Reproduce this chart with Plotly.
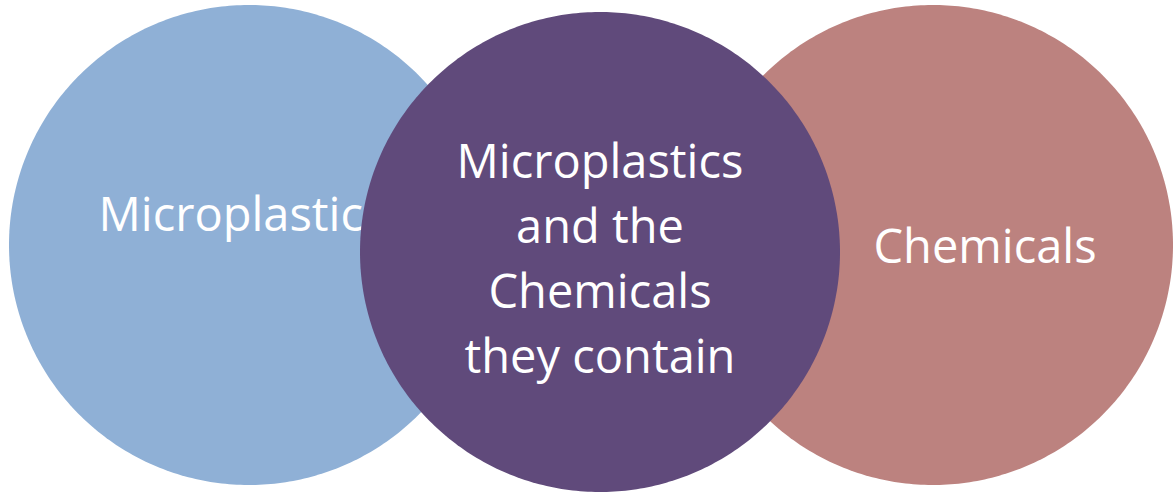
import numpy as np
import plotly.graph_objects as go

# ---- data ----
circle_names = ["Microplastics", "Microplastics and the Chemicals they contain", "Chemicals"]
left_label = "Microplastics"
middle_lines = ["Microplastics", "and the", "Chemicals", "they contain"]
right_label = "Chemicals"

# ---- layout geometry (pixels) ----
W, H = 1173, 494
FS = 47
FONT = "Open Sans"

def circle_xy(cx, cy, r, n=400):
    t = np.linspace(0, 2 * np.pi, n)
    return cx + r * np.cos(t), cy + r * np.sin(t)

def text_y(baseline):
    # middle-center text: baseline sits ~0.24em below the anchor point
    return baseline - 0.24 * FS

fig = go.Figure()

# left circle
x, y = circle_xy(249, 245, 240)
fig.add_trace(go.Scatter(x=x, y=y, fill="toself", fillcolor="#8FB0D6", mode="none",
                         hoverinfo="skip", name=circle_names[0]))
# right circle
x, y = circle_xy(933, 245, 240)
fig.add_trace(go.Scatter(x=x, y=y, fill="toself", fillcolor="#BC827F", mode="none",
                         hoverinfo="skip", name=circle_names[2]))
# left label (partially covered by middle circle)
fig.add_trace(go.Scatter(x=[242], y=[text_y(231)], mode="text", text=[left_label],
                         textposition="middle center",
                         textfont=dict(family=FONT, size=FS, color="white"),
                         hoverinfo="skip"))
# middle circle
x, y = circle_xy(600, 252, 240)
fig.add_trace(go.Scatter(x=x, y=y, fill="toself", fillcolor="#604A7B", mode="none",
                         hoverinfo="skip", name=circle_names[1]))
# middle label lines
base0, step = 178, 64.7
fig.add_trace(go.Scatter(x=[600] * len(middle_lines),
                         y=[text_y(base0 + i * step) for i in range(len(middle_lines))],
                         mode="text", text=middle_lines, textposition="middle center",
                         textfont=dict(family=FONT, size=FS, color="white"),
                         hoverinfo="skip"))
# right label
fig.add_trace(go.Scatter(x=[985], y=[text_y(263)], mode="text", text=[right_label],
                         textposition="middle center",
                         textfont=dict(family=FONT, size=FS, color="white"),
                         hoverinfo="skip"))

fig.update_layout(
    width=W, height=H, margin=dict(l=0, r=0, t=0, b=0),
    paper_bgcolor="white", plot_bgcolor="white", showlegend=False,
    xaxis=dict(range=[0, W], visible=False, fixedrange=True),
    yaxis=dict(range=[H, 0], visible=False, fixedrange=True),
)
fig.write_html("out.html", config={"displayModeBar": False},
               post_script="document.body.style.margin='0';document.body.style.overflow='hidden';")
